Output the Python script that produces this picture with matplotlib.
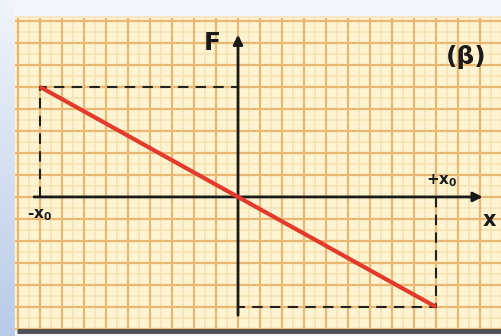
import numpy as np
import matplotlib.pyplot as plt
from matplotlib.patches import Rectangle
from matplotlib.colors import LinearSegmentedColormap

# data: F = -k x, drawn between -x0 and +x0 (grid units)
x_vals = [-9, 9]
F_vals = [5, -5]
x0_labels = [r'-$\mathbf{x_0}$', r'+$\mathbf{x_0}$']

# view window (grid units, origin at the axes crossing)
XMIN, XMAX = -10.82, 12.0
YMIN, YMAX = -6.32, 8.95
# graph paper panel bounds
PL, PR, PB, PT = -10.14, 12.0, -6.05, 8.14

fig = plt.figure(figsize=(5.02, 3.36), dpi=100)
ax = fig.add_axes([0, 0, 1, 1])
ax.set_xlim(XMIN, XMAX)
ax.set_ylim(YMIN, YMAX)
ax.axis('off')

# page around the panel
ax.add_patch(Rectangle((XMIN, YMIN), XMAX - XMIN, YMAX - YMIN, color='#f4f6fb', zorder=0))
grad = np.linspace(0, 1, 100).reshape(-1, 1)
ax.imshow(grad, extent=[XMIN, PL, YMIN, YMAX], aspect='auto',
          cmap=LinearSegmentedColormap.from_list('b', ['#f0f4fb', '#b9cbe9']), zorder=0.5)

# graph paper
ax.add_patch(Rectangle((PL, PB), PR - PL, PT - PB, color='#fff4d2', zorder=1))
for v in np.arange(-10, 12.01, 0.5):
    major = float(v).is_integer()
    ax.vlines(v, PB, PT, color='#eab872' if major else '#f7e3b6',
              lw=1.6 if major else 1.2, zorder=2 if major else 1.5)
for v in np.arange(-6, 8.01, 0.5):
    major = float(v).is_integer()
    ax.hlines(v, PL, PR, color='#eab872' if major else '#f7e3b6',
              lw=1.6 if major else 1.2, zorder=2 if major else 1.5)
ax.hlines(PB - 0.05, PL + 0.1, PR, color='#4d4f55', lw=3.5, zorder=3)
ax.hlines(PT + 0.02, PL, PR, color='#f6e6c6', lw=1.5, zorder=3)

# dashed guides
ax.plot([x_vals[0], x_vals[0], 0], [0, F_vals[0], F_vals[0]], ls=(0, (5, 3.5)), color='#222', lw=1.5, zorder=4)
ax.plot([x_vals[1], x_vals[1], 0], [0, F_vals[1], F_vals[1]], ls=(0, (5, 3.5)), color='#222', lw=1.5, zorder=4)

# axes with arrows
ax.annotate('', xy=(11.25, 0), xytext=(-9.4, 0),
            arrowprops=dict(arrowstyle='-|>', color='#1a1a1a', lw=2, mutation_scale=14), zorder=5)
ax.annotate('', xy=(0, 7.5), xytext=(0, -5.5),
            arrowprops=dict(arrowstyle='-|>', color='#1a1a1a', lw=2, mutation_scale=14), zorder=5)

# F(x) line
ax.plot(x_vals, F_vals, color='#e43a2c', lw=3, solid_capstyle='butt', zorder=6)

# labels
ax.text(-1.15, 7.0, 'F', fontsize=18, fontweight='bold', ha='center', va='center', color='#1a1a1a', zorder=7)
ax.text(11.45, -1.05, 'x', fontsize=15, fontweight='bold', ha='center', va='center', color='#1a1a1a', zorder=7)
ax.text(x_vals[0], -0.85, x0_labels[0], fontsize=11, fontweight='bold', ha='center', va='center', color='#1a1a1a', zorder=7)
ax.text(x_vals[1] + 0.25, 0.75, x0_labels[1], fontsize=11, fontweight='bold', ha='center', va='center', color='#1a1a1a', zorder=7)
ax.text(10.36, 6.36, '(β)', fontsize=18, fontweight='bold', ha='center', va='center', color='#1a1a1a', zorder=7)

fig.savefig('out.png', dpi=100)
